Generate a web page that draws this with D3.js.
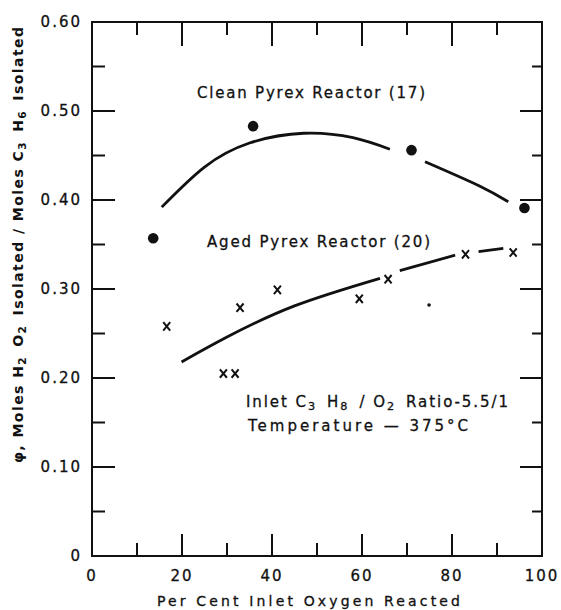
<!DOCTYPE html>
<html>
<head>
<meta charset="utf-8">
<script src="https://cdn.jsdelivr.net/npm/d3@7"></script>
<style>
  body { margin: 0; background: #fff; }
  text { font-family: "DejaVu Sans", sans-serif; fill: #111; }
</style>
</head>
<body>
<script>
// values
var xTicks = [0, 20, 40, 60, 80, 100];
var yTicks = [0, 0.1, 0.2, 0.3, 0.4, 0.5, 0.6];
var yTickLabels = ["0", "0.10", "0.20", "0.30", "0.40", "0.50", "0.60"];

var cleanPoints = [[13.6, 0.357], [35.8, 0.483], [71.0, 0.456], [96.1, 0.391]];
var agedPoints = [[16.6, 0.258], [29.2, 0.205], [31.8, 0.205], [32.9, 0.279], [41.2, 0.299],
                  [59.4, 0.289], [65.8, 0.311], [83.0, 0.339], [93.6, 0.341]];
var specks = [[74.9, 0.282]];

// fitted curves as drawn, one array per unbroken stretch of line
var cleanCurve = [
  [[15.5, 0.392], [25, 0.437], [35, 0.464], [47, 0.475], [58, 0.470], [66.2, 0.457]],
  [[74.0, 0.443], [86.0, 0.416], [92.5, 0.398]]
];
var agedCurve = [
  [[19.9, 0.218], [30, 0.246], [45, 0.281], [64.0, 0.312]],
  [[68.4, 0.3206], [80.7, 0.338]],
  [[85.9, 0.342], [91.4, 0.3457]]
];

var W = 561, H = 610;
var svg = d3.select("body").append("svg").attr("width", W).attr("height", H);

var x = d3.scaleLinear().domain([0, 100]).range([92, 542]);
var y = d3.scaleLinear().domain([0, 0.6]).range([556, 22]);

// frame
svg.append("rect")
  .attr("x", x(0)).attr("y", y(0.6))
  .attr("width", x(100) - x(0)).attr("height", y(0) - y(0.6))
  .attr("fill", "none").attr("stroke", "#111").attr("stroke-width", 2);

// inward ticks on all four sides
var g = svg.append("g").attr("stroke", "#111").attr("stroke-width", 2);
d3.range(0, 101, 10).forEach(function(v) {
  var major = v % 20 == 0;
  if (v > 0 && v < 100) {
    g.append("line").attr("x1", x(v)).attr("x2", x(v)).attr("y1", y(0)).attr("y2", y(0) - (major ? 22 : 13));
    g.append("line").attr("x1", x(v)).attr("x2", x(v)).attr("y1", y(0.6)).attr("y2", y(0.6) + (major ? 24 : 13));
  }
});
d3.range(0, 13).forEach(function(i) {
  var v = i * 0.05;
  var major = i % 2 == 0;
  if (i > 0 && i < 12) {
    g.append("line").attr("x1", x(0)).attr("x2", x(0) + (major ? 23 : 13)).attr("y1", y(v)).attr("y2", y(v));
    g.append("line").attr("x1", x(100)).attr("x2", x(100) - (major ? 22 : 10)).attr("y1", y(v)).attr("y2", y(v));
  }
});

// tick labels
svg.selectAll("text.xt").data(xTicks).enter().append("text")
  .attr("class", "xt")
  .attr("x", function(d) { return x(d); })
  .attr("y", 581)
  .attr("text-anchor", "middle")
  .attr("font-size", 15)
  .attr("letter-spacing", 2)
  .attr("stroke", "#111").attr("stroke-width", 0.3)
  .text(function(d) { return d; });

svg.selectAll("text.yt").data(yTicks).enter().append("text")
  .attr("class", "yt")
  .attr("x", 82)
  .attr("y", function(d) { return y(d) + 5; })
  .attr("text-anchor", "end")
  .attr("font-size", 15)
  .attr("letter-spacing", 2)
  .attr("stroke", "#111").attr("stroke-width", 0.3)
  .text(function(d, i) { return yTickLabels[i]; });

// axis titles
svg.append("text")
  .attr("x", 157).attr("y", 606)
  .attr("font-size", 14)
  .attr("stroke", "#111").attr("stroke-width", 0.3)
  .attr("textLength", 303).attr("lengthAdjust", "spacing")
  .text("Per Cent Inlet Oxygen Reacted");

var yt = svg.append("text")
  .attr("transform", "translate(23,463) rotate(-90)")
  .attr("font-size", 14).attr("font-weight", "bold")
  .attr("textLength", 436).attr("lengthAdjust", "spacing");
function addParts(t, parts) {
  parts.forEach(function(p) {
    if (p[1]) {
      t.append("tspan").attr("dy", 3).attr("font-size", "0.75em").text(p[0]);
      t.append("tspan").attr("dy", -3).text("\u200a");
    } else {
      t.append("tspan").text(p[0]);
    }
  });
}
addParts(yt, [["\u03c6, Moles H"], ["2", 1], [" O"], ["2", 1], [" Isolated / Moles C"], ["3", 1], [" H"], ["6", 1], [" Isolated"]]);

// curves
var line = d3.line()
  .x(function(d) { return x(d[0]); })
  .y(function(d) { return y(d[1]); })
  .curve(d3.curveNatural);

cleanCurve.concat(agedCurve).forEach(function(c) {
  svg.append("path").attr("d", line(c))
    .attr("fill", "none").attr("stroke", "#111").attr("stroke-width", 2.8)
    .attr("stroke-linecap", "butt");
});

// markers
svg.selectAll("circle.clean").data(cleanPoints).enter().append("circle")
  .attr("class", "clean")
  .attr("cx", function(d) { return x(d[0]); })
  .attr("cy", function(d) { return y(d[1]); })
  .attr("r", 5.3).attr("fill", "#111");

svg.selectAll("circle.speck").data(specks).enter().append("circle")
  .attr("cx", function(d) { return x(d[0]); })
  .attr("cy", function(d) { return y(d[1]); })
  .attr("r", 1.8).attr("fill", "#111");

svg.selectAll("path.aged").data(agedPoints).enter().append("path")
  .attr("class", "aged")
  .attr("d", function(d) {
    var cx = x(d[0]), cy = y(d[1]);
    return "M" + (cx - 3.5) + "," + (cy - 4.2) + "L" + (cx + 3.5) + "," + (cy + 4.2) +
           "M" + (cx + 3.5) + "," + (cy - 4.2) + "L" + (cx - 3.5) + "," + (cy + 4.2);
  })
  .attr("stroke", "#111").attr("stroke-width", 2).attr("fill", "none");

// annotations
function note(tx, ty, len) {
  return svg.append("text").attr("x", tx).attr("y", ty).attr("font-size", 15)
    .attr("stroke", "#111").attr("stroke-width", 0.3)
    .attr("textLength", len).attr("lengthAdjust", "spacing");
}
note(197, 98, 228).text("Clean Pyrex Reactor (17)");
note(207, 247, 223).text("Aged Pyrex Reactor (20)");
addParts(note(246, 407, 262), [["Inlet C"], ["3", 1], [" H"], ["8", 1], [" / O"], ["2", 1], [" Ratio-5.5/1"]]);
note(248, 431, 220).text("Temperature \u2014 375\u00b0C");
</script>
</body>
</html>
